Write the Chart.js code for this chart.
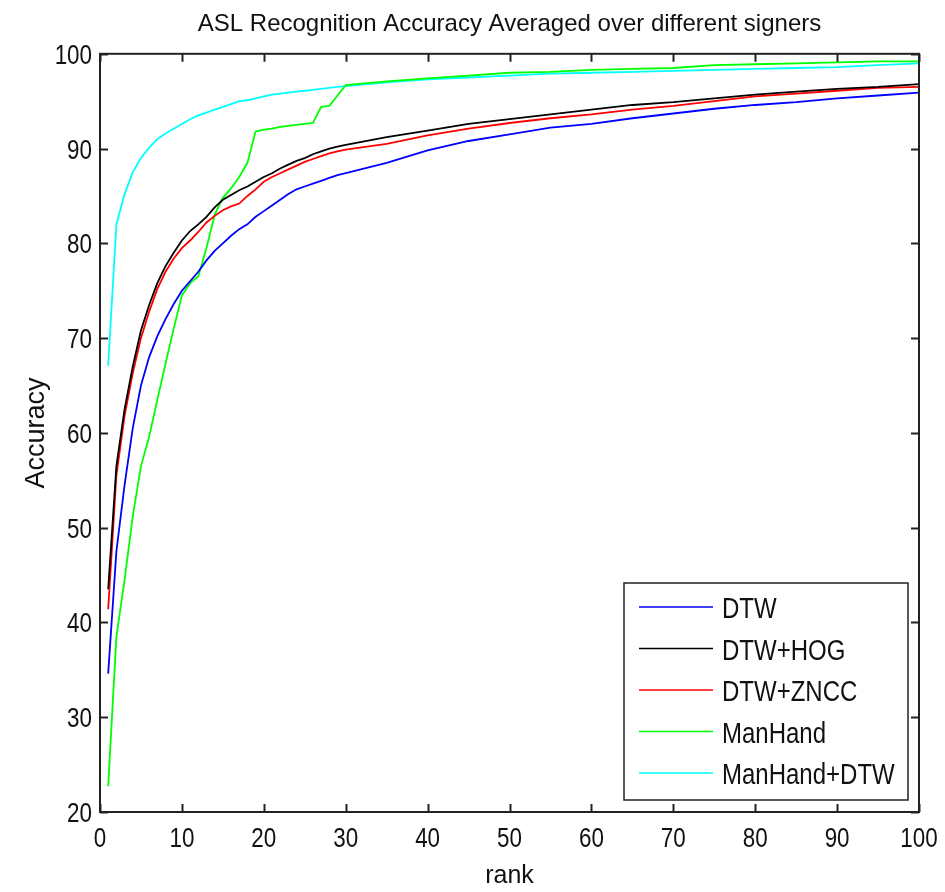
<!DOCTYPE html>
<html>
<head>
<meta charset="utf-8">
<script src="https://cdn.jsdelivr.net/npm/chart.js@4.4.1/dist/chart.umd.min.js"></script>
<style>
  html, body { margin: 0; padding: 0; background: #fff; }
  #wrap { width: 945px; height: 892px; }
</style>
</head>
<body>
<div id="wrap"><canvas id="grafica"></canvas></div>
<script>
// Colores puros estilo MATLAB
const AZUL = '#0000FF';
const NEGRO = '#000000';
const ROJO = '#FF0000';
const VERDE = '#00FF00';
const CIAN = '#00FFFF';
const FUENTE = "'Liberation Sans', Arial, sans-serif";
// el original usa una letra alta y estrecha: se dibuja comprimida en horizontal
const ESTRECHO = 0.8;

const titulo = 'ASL Recognition Accuracy Averaged over different signers';
const etiquetas = ['DTW', 'DTW+HOG', 'DTW+ZNCC', 'ManHand', 'ManHand+DTW'];

const ranks = [1, 2, 3, 4, 5, 6, 7, 8, 9, 10, 11, 12, 13, 14, 15, 16, 17, 18, 19, 20,
  21, 22, 23, 24, 25, 26, 27, 28, 29, 30, 35, 40, 45, 50, 55, 60, 65, 70, 75, 80, 85, 90, 95, 100];

const dtw = [34.6, 47.5, 54.5, 60.5, 65, 68, 70.2, 72, 73.6, 75, 76, 77, 78.2, 79.2, 80, 80.8, 81.5, 82, 82.8, 83.4,
  84, 84.6, 85.2, 85.7, 86, 86.3, 86.6, 86.9, 87.2, 87.4, 88.5, 89.8, 90.8, 91.5, 92.2, 92.6, 93.2, 93.7, 94.2, 94.6, 94.9, 95.3, 95.6, 95.9];

const dtwHog = [43.5, 56.5, 62.5, 67, 70.8, 73.5, 75.8, 77.6, 79, 80.3, 81.3, 82, 82.8, 83.8, 84.6, 85.1, 85.6, 86, 86.5, 87,
  87.4, 87.9, 88.3, 88.7, 89, 89.4, 89.7, 90, 90.2, 90.4, 91.2, 91.9, 92.6, 93.1, 93.6, 94.1, 94.6, 94.9, 95.3, 95.7, 96, 96.3, 96.5, 96.8];

const dtwZncc = [41.4, 55.5, 61.8, 66.3, 70, 72.8, 75.2, 77, 78.4, 79.5, 80.3, 81.2, 82.2, 82.9, 83.5, 83.9, 84.2, 85, 85.7, 86.5,
  87, 87.4, 87.8, 88.2, 88.6, 88.9, 89.2, 89.5, 89.7, 89.9, 90.5, 91.4, 92.1, 92.7, 93.2, 93.6, 94.1, 94.5, 95, 95.5, 95.8, 96.1, 96.4, 96.5];

const manHand = [22.7, 38.5, 44.5, 51.2, 56.5, 59.6, 63.5, 67.3, 71, 74.5, 75.8, 76.5, 79.5, 83, 84.8, 85.8, 87, 88.5, 91.8, 92,
  92.1, 92.3, 92.4, 92.5, 92.6, 92.7, 94.4, 94.5, 95.6, 96.7, 97.1, 97.4, 97.7, 98, 98.1, 98.3, 98.4, 98.5, 98.8, 98.9, 99, 99.1, 99.2, 99.2];

const manHandDtw = [67.1, 82, 85.2, 87.5, 89, 90.1, 91, 91.6, 92.1, 92.6, 93.1, 93.5, 93.8, 94.1, 94.4, 94.7, 95, 95.1, 95.3, 95.5,
  95.7, 95.8, 95.9, 96, 96.1, 96.2, 96.3, 96.4, 96.5, 96.6, 97, 97.3, 97.5, 97.7, 97.9, 98, 98.1, 98.2, 98.3, 98.4, 98.5, 98.6, 98.8, 99];

const series = [dtw, dtwHog, dtwZncc, manHand, manHandDtw];
const colores = [AZUL, NEGRO, ROJO, VERDE, CIAN];

function puntos(valores) {
  return valores.map((v, i) => ({ x: ranks[i], y: v }));
}

function textoEstrecho(ctx, texto, x, y, align) {
  ctx.save();
  ctx.translate(x, y);
  ctx.scale(ESTRECHO, 1);
  ctx.textAlign = align;
  ctx.fillText(texto, 0, 0);
  ctx.restore();
}

// Marco de ejes con marcas hacia dentro, números de los ejes y leyenda tipo MATLAB
const marcoYLeyenda = {
  id: 'marcoYLeyenda',
  afterDraw(chart) {
    const { ctx, chartArea: a, scales } = chart;
    ctx.save();
    ctx.strokeStyle = '#222';
    ctx.lineWidth = 2;
    ctx.strokeRect(a.left, a.top, a.right - a.left, a.bottom - a.top);

    const largo = 8;
    ctx.beginPath();
    scales.x.ticks.forEach((t) => {
      const px = Math.round(scales.x.getPixelForValue(t.value)) + 0.5;
      ctx.moveTo(px, a.bottom); ctx.lineTo(px, a.bottom - largo);
      ctx.moveTo(px, a.top); ctx.lineTo(px, a.top + largo);
    });
    scales.y.ticks.forEach((t) => {
      const py = Math.round(scales.y.getPixelForValue(t.value)) + 0.5;
      ctx.moveTo(a.left, py); ctx.lineTo(a.left + largo, py);
      ctx.moveTo(a.right, py); ctx.lineTo(a.right - largo, py);
    });
    ctx.stroke();

    // números de los ejes
    ctx.fillStyle = '#111';
    ctx.font = '28px ' + FUENTE;
    ctx.textBaseline = 'alphabetic';
    scales.x.ticks.forEach((t) => {
      textoEstrecho(ctx, String(t.value), scales.x.getPixelForValue(t.value), a.bottom + 35, 'center');
    });
    scales.y.ticks.forEach((t) => {
      textoEstrecho(ctx, String(t.value), a.left - 8, scales.y.getPixelForValue(t.value) + 10, 'right');
    });

    // leyenda
    const ancho = 284;
    const alto = 217;
    const izq = a.right - 11 - ancho;
    const arriba = a.bottom - 12 - alto;
    ctx.fillStyle = '#fff';
    ctx.fillRect(izq, arriba, ancho, alto);
    ctx.strokeStyle = '#222';
    ctx.lineWidth = 1.5;
    ctx.strokeRect(izq, arriba, ancho, alto);
    ctx.font = '30px ' + FUENTE;
    chart.data.datasets.forEach((ds, i) => {
      const y = arriba + 24 + i * 41.5;
      ctx.strokeStyle = ds.borderColor;
      ctx.lineWidth = 1.5;
      ctx.beginPath();
      ctx.moveTo(izq + 15, y);
      ctx.lineTo(izq + 89, y);
      ctx.stroke();
      ctx.fillStyle = '#111';
      textoEstrecho(ctx, ds.label, izq + 98, y + 11, 'left');
    });
    ctx.restore();
  },
};

new Chart(document.getElementById('grafica'), {
  type: 'line',
  data: {
    datasets: series.map((s, i) => ({
      label: etiquetas[i],
      data: puntos(s),
      borderColor: colores[i],
      backgroundColor: colores[i],
      borderWidth: 1.8,
      pointRadius: 0,
      tension: 0,
      fill: false,
    })),
  },
  options: {
    responsive: true,
    maintainAspectRatio: false,
    animation: false,
    layout: { padding: { left: 0, right: 26, top: 0, bottom: 0 } },
    plugins: {
      legend: { display: false },
      tooltip: { enabled: false },
      title: {
        display: true,
        text: titulo,
        fullSize: false,
        color: '#111',
        font: { family: FUENTE, size: 24, weight: 'normal' },
        padding: { top: 10, bottom: 15 },
      },
    },
    scales: {
      x: {
        type: 'linear',
        min: 0,
        max: 100,
        ticks: { stepSize: 10, display: false },
        grid: { display: false, drawTicks: false },
        border: { display: false },
        title: { display: true, text: 'rank', color: '#111', font: { family: FUENTE, size: 25 }, padding: { top: 0, bottom: 1 } },
        afterFit(scale) { scale.height = 80; },
      },
      y: {
        min: 20,
        max: 100,
        ticks: { stepSize: 10, display: false },
        grid: { display: false, drawTicks: false },
        border: { display: false },
        title: { display: true, text: 'Accuracy', color: '#111', font: { family: FUENTE, size: 27 }, padding: { top: 20, bottom: 0 } },
        afterFit(scale) { scale.width = 100; },
      },
    },
  },
  plugins: [marcoYLeyenda],
});
</script>
</body>
</html>
